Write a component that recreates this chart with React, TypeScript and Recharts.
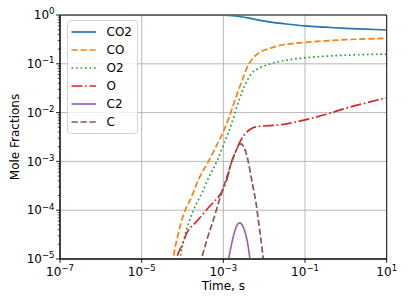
import React from 'react';
import { LineChart, Line, XAxis, YAxis, CartesianGrid, Legend, ReferenceArea, Label } from 'recharts';

// ---- data (time in s, mole fraction) ----
const co2Time = [1e-7, 1e-3, 2.0e-3, 4.0e-3, 7.9e-3, 1.58e-2, 3.16e-2, 0.1, 0.316, 1, 3.16, 10];
const co2Frac = [1.0, 0.995, 0.955, 0.871, 0.776, 0.708, 0.661, 0.596, 0.562, 0.533, 0.513, 0.493];

const coTime = [5.37e-5, 5.94e-5, 7.94e-5, 1.148e-4, 1.585e-4, 2.43e-4, 4.28e-4, 6.61e-4, 1e-3, 1.38e-3, 1.93e-3, 2.81e-3, 4.08e-3, 5.5e-3, 7.18e-3, 1.387e-2, 2.51e-2, 5.01e-2, 0.1, 0.316, 1, 3.16, 10];
const coFrac = [5e-6, 1e-5, 3.4e-5, 9.77e-5, 1.7e-4, 4.17e-4, 9.86e-4, 2.0e-3, 4.07e-3, 7.94e-3, 1.82e-2, 4.3e-2, 9.44e-2, 0.135, 0.164, 0.208, 0.24, 0.26, 0.275, 0.295, 0.312, 0.324, 0.333];

const o2Time = [7.94e-5, 8.71e-5, 1.122e-4, 1.837e-4, 3.24e-4, 3.91e-4, 6.87e-4, 1e-3, 1.32e-3, 1.778e-3, 2.32e-3, 3.39e-3, 4.94e-3, 7.08e-3, 9.51e-3, 1.585e-2, 2.44e-2, 5.01e-2, 0.1, 0.316, 1, 3.16, 10];
const o2Frac = [5e-6, 1e-5, 2.82e-5, 9.77e-5, 2.59e-4, 3.8e-4, 9.86e-4, 2.14e-3, 3.8e-3, 7.94e-3, 1.62e-2, 3.68e-2, 6.38e-2, 7.94e-2, 8.91e-2, 0.102, 0.112, 0.124, 0.133, 0.143, 0.15, 0.155, 0.158];

const oTime = [6.61e-5, 7.19e-5, 1e-4, 1.265e-4, 1.585e-4, 2.0e-4, 2.82e-4, 3.98e-4, 5.68e-4, 8.32e-4, 1e-3, 1.208e-3, 1.6e-3, 2.04e-3, 2.55e-3, 3.16e-3, 3.72e-3, 5.01e-3, 6.55e-3, 7.94e-3, 1.387e-2, 2.51e-2, 5.01e-2, 0.1, 0.316, 1, 3.16, 10];
const oFrac = [5e-6, 1e-5, 2e-5, 3.39e-5, 4.47e-5, 5.37e-5, 7.41e-5, 1.047e-4, 1.445e-4, 2.09e-4, 2.75e-4, 4.17e-4, 9.86e-4, 1.66e-3, 2.51e-3, 3.39e-3, 3.98e-3, 4.79e-3, 5.14e-3, 5.25e-3, 5.43e-3, 5.62e-3, 6.24e-3, 7.08e-3, 9.12e-3, 1.23e-2, 1.585e-2, 2.02e-2];

const c2Time = [1.202e-3, 1.349e-3, 1.585e-3, 1.778e-3, 2.09e-3, 2.51e-3, 3.02e-3, 3.55e-3, 4.07e-3, 4.47e-3, 4.79e-3];
const c2Frac = [5e-6, 1e-5, 2e-5, 3.02e-5, 4.68e-5, 5.5e-5, 4.68e-5, 3.16e-5, 1.78e-5, 1e-5, 5e-6];

const cTime = [2.51e-4, 2.95e-4, 3.98e-4, 5.68e-4, 7.94e-4, 1e-3, 1.259e-3, 1.6e-3, 2.0e-3, 2.4e-3, 2.75e-3, 3.24e-3, 4.08e-3, 4.94e-3, 5.41e-3, 6.31e-3, 7.18e-3, 8.32e-3, 9.51e-3, 1.047e-2];
const cFrac = [5e-6, 1e-5, 2.51e-5, 6.31e-5, 1.585e-4, 2.95e-4, 5.25e-4, 9.86e-4, 1.585e-3, 2.14e-3, 2.29e-3, 1.905e-3, 9.86e-4, 4.16e-4, 2.82e-4, 1.41e-4, 6.31e-5, 2.51e-5, 1e-5, 5e-6];

const xTicks = [1e-7, 1e-5, 1e-3, 1e-1, 10];
const yMajor = [1e-5, 1e-4, 1e-3, 1e-2, 1e-1, 1];
const yMinorSubs = [2, 3, 4, 5, 6, 7, 8, 9];

const FONT = 'DejaVu Sans';
const FS = 12;
const FS_EXP = 8.5;

const yTicks: number[] = [];
yMajor.forEach((m, i) => {
  yTicks.push(m);
  if (i < yMajor.length - 1) yMinorSubs.forEach((s) => yTicks.push(+(m * s).toPrecision(3)));
});

const zip = (t: number[], v: number[]) => t.map((tt, i) => ({ t: tt, v: v[i] }));

const series = [
  { name: 'CO2', data: zip(co2Time, co2Frac), color: '#1f77b4', dash: undefined as string | undefined },
  { name: 'CO', data: zip(coTime, coFrac), color: '#ff7f0e', dash: '6.3 2.7' },
  { name: 'O2', data: zip(o2Time, o2Frac), color: '#2ca02c', dash: '1.7 2.8' },
  { name: 'O', data: zip(oTime, oFrac), color: '#d62728', dash: '10.9 2.7 1.7 2.7' },
  { name: 'C2', data: zip(c2Time, c2Frac), color: '#9467bd', dash: undefined },
  { name: 'C', data: zip(cTime, cFrac), color: '#8c564b', dash: '6.3 2.7' },
];

const expLabel = (v: number) => {
  const e = Math.round(Math.log10(v));
  return e < 0 ? '\u2212' + Math.abs(e) : String(e);
};

const XTick = (props: any) => {
  const { x, y, payload } = props;
  return (
    <g>
      <line x1={x} x2={x} y1={y} y2={y + 3.9} stroke="#000" strokeWidth={0.9} />
      <text x={x} y={y + 17} textAnchor="middle" fontFamily={FONT} fontSize={FS} fill="#000">
        10<tspan fontSize={FS_EXP} dy={-4.8}>{expLabel(payload.value)}</tspan>
      </text>
    </g>
  );
};

const YTick = (props: any) => {
  const { x, y, payload } = props;
  const v = payload.value as number;
  const lg = Math.log10(v);
  const major = Math.abs(lg - Math.round(lg)) < 1e-6;
  return (
    <g>
      <line x1={x - (major ? 3.9 : 2.2)} x2={x} y1={y} y2={y} stroke="#000" strokeWidth={major ? 0.9 : 0.7} />
      {major && (
        <text x={x - 5.5} y={y + 4.2} textAnchor="end" fontFamily={FONT} fontSize={FS} fill="#000">
          10<tspan fontSize={FS_EXP} dy={-4.8}>{expLabel(v)}</tspan>
        </text>
      )}
    </g>
  );
};

const LegendBox = () => (
  <svg width={72} height={115} style={{ display: 'block' }}>
    <rect x={0.5} y={0.5} width={70} height={113} rx={3} ry={3} fill="#fff" fillOpacity={0.8} stroke="#cccccc" strokeWidth={0.9} />
    {series.map((s, i) => {
      const cy = 12 + 18 * i;
      return (
        <g key={s.name}>
          <line x1={4.5} x2={29} y1={cy} y2={cy} stroke={s.color} strokeWidth={1.7} strokeDasharray={s.dash} />
          <text x={39.5} y={cy + 4.3} fontFamily={FONT} fontSize={FS} fill="#000">{s.name}</text>
        </g>
      );
    })}
  </svg>
);

export default function App() {
  return (
    <div style={{ position: 'absolute', left: 0, top: 0, width: 407, height: 305, background: '#fff' }}>
      <LineChart width={407} height={305} margin={{ top: 15, right: 20.3, bottom: 0, left: 0 }}>
        <CartesianGrid stroke="#b0b0b0" strokeWidth={0.9} horizontalValues={yMajor} verticalValues={xTicks} />
        <XAxis
          type="number"
          dataKey="t"
          scale="log"
          domain={[1e-7, 10]}
          allowDataOverflow
          ticks={xTicks}
          interval={0}
          height={46}
          tickSize={0}
          tickMargin={0}
          tickLine={false}
          axisLine={{ stroke: '#000', strokeWidth: 0.9 }}
          tick={XTick}
        >
          <Label
            content={(p: any) => {
              const vb = p.viewBox;
              return (
                <text x={vb.x + vb.width / 2} y={vb.y + 31} textAnchor="middle" fontFamily={FONT} fontSize={FS} fill="#000">
                  Time, s
                </text>
              );
            }}
          />
        </XAxis>
        <YAxis
          type="number"
          dataKey="v"
          scale="log"
          domain={[1e-5, 1]}
          allowDataOverflow
          ticks={yTicks}
          interval={0}
          width={60}
          tickSize={0}
          tickMargin={0}
          tickLine={false}
          axisLine={{ stroke: '#000', strokeWidth: 0.9 }}
          tick={YTick}
        >
          <Label
            content={(p: any) => {
              const vb = p.viewBox;
              const cy = vb.y + vb.height / 2;
              return (
                <text x={19} y={cy} textAnchor="middle" fontFamily={FONT} fontSize={FS} fill="#000" transform={`rotate(-90 19 ${cy})`}>
                  Mole Fractions
                </text>
              );
            }}
          />
        </YAxis>
        {series.map((s) => (
          <Line
            key={s.name}
            data={s.data}
            dataKey="v"
            name={s.name}
            type="monotone"
            stroke={s.color}
            strokeWidth={1.7}
            strokeDasharray={s.dash}
            dot={false}
            activeDot={false}
            isAnimationActive={false}
          />
        ))}
        <ReferenceArea x1={1e-7} x2={10} y1={1e-5} y2={1} fill="none" stroke="#000" strokeWidth={0.9} />
        <Legend
          layout="vertical"
          align="center"
          verticalAlign="middle"
          wrapperStyle={{ left: 66.5, top: 20, width: 72, height: 115 }}
          content={() => <LegendBox />}
        />
      </LineChart>
    </div>
  );
}
